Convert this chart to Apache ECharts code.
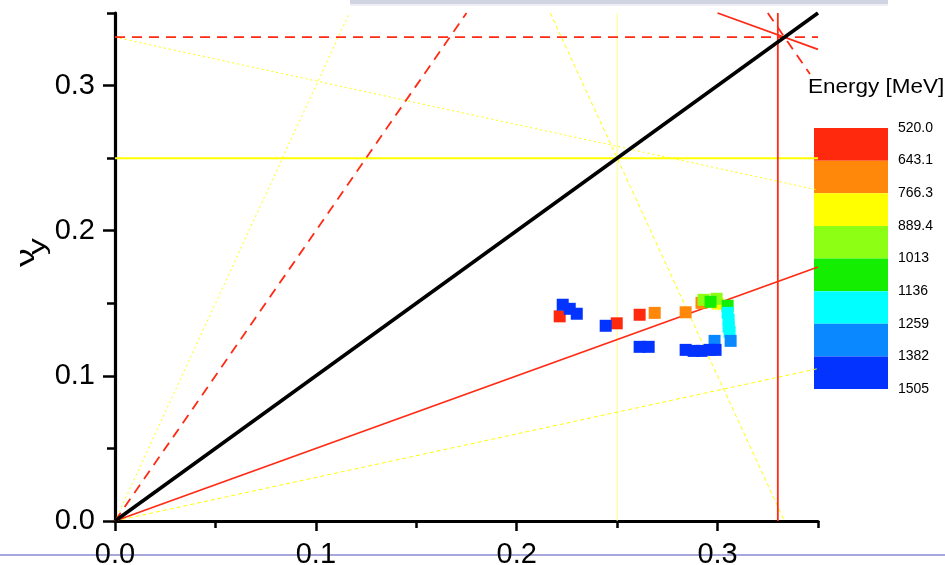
<!DOCTYPE html>
<html>
<head>
<meta charset="utf-8">
<script src="https://cdn.jsdelivr.net/npm/echarts@6/dist/echarts.min.js"></script>
<style>
  html, body { margin: 0; padding: 0; background: #ffffff; }
  #chart { width: 945px; height: 565px; }
</style>
</head>
<body>
<div id="chart"></div>
<script>
// Axis ticks of the tune diagram
const xTickValues = [0, 0.1, 0.2, 0.3];
const xTickLabels = ['0.0', '0.1', '0.2', '0.3'];
const yTickValues = [0, 0.1, 0.2, 0.3];
const yTickLabels = ['0.0', '0.1', '0.2', '0.3'];
const minorTickValues = [0.05, 0.15, 0.25, 0.35];

// Measured working points along the ramp: horizontal tune, vertical tune, beam energy [MeV]
const tuneX = [0.2214, 0.2498, 0.2612, 0.2687, 0.2841, 0.2920, 0.3000, 0.2930, 0.2995, 0.2965,
               0.3050, 0.3050, 0.3055, 0.3055, 0.3060, 0.3065, 0.2985, 0.2990, 0.2960, 0.2920,
               0.2881, 0.2841, 0.2657, 0.2612, 0.2443, 0.2299, 0.2264, 0.2229];
const tuneY = [0.1410, 0.1362, 0.1421, 0.1434, 0.1438, 0.1503, 0.1497, 0.1524, 0.1531, 0.1510,
               0.1483, 0.1434, 0.1386, 0.1338, 0.1303, 0.1241, 0.1241, 0.1179, 0.1179, 0.1172,
               0.1172, 0.1179, 0.1200, 0.1200, 0.1345, 0.1428, 0.1462, 0.1490];
const tuneEnergy = [530, 570, 610, 660, 700, 745, 830, 920, 980, 1040,
                    1100, 1150, 1180, 1210, 1240, 1290, 1350, 1390, 1400, 1410,
                    1420, 1430, 1440, 1450, 1465, 1480, 1490, 1500];

// Energy colour scale
const energyBounds = [520.0, 643.1, 766.3, 889.4, 1013, 1136, 1259, 1382, 1505];
const energyTickLabels = ['520.0', '643.1', '766.3', '889.4', '1013', '1136', '1259', '1382', '1505'];
const energyColors = ['#ff2a0e', '#ff870a', '#ffff00', '#8cff14', '#14ee00', '#00ffff', '#0a88ff', '#0233ff'];

// Resonance lines (end points in tune space)
const coupling = [[0, 0], [0.35, 0.35]];            // Qx = Qy
const halfLine = [[0, 0], [0.35, 0.175]];           // Qx - 2Qy = 0
const doubleLine = [[0, 0], [0.175, 0.35]];         // 2Qx - Qy = 0
const thirdY = [[0, 1 / 3], [0.35, 1 / 3]];         // 3Qy = 1
const thirdX = [[0.33, 0], [0.33, 0.35]];           // 3Qx = 1
const sumA = [[0.30, 0.35], [0.35, 0.325]];         // Qx + 2Qy = 1
const sumB = [[0.325, 0.35], [0.346, 0.308]];       // 2Qx + Qy = 1
const quarterY = [[0, 0.25], [0.35, 0.25]];         // 4Qy = 1
const quarterX = [[0.25, 0], [0.25, 0.35]];         // 4Qx = 1
const sumC = [[0.2167, 0.35], [0.3333, 0]];         // 3Qx + Qy = 1
const steepLine = [[0, 0], [0.1167, 0.35]];         // 3Qx - Qy = 0
const sumD = [[0, 0.3333], [0.35, 0.228]];          // Qx + 3Qy = 1
const flatLine = [[0, 0], [0.35, 0.105]];           // Qx - 3Qy = 0

const RED = '#ff2a14';
const YEL = '#ffff00';
const FONT = 'Liberation Sans, Arial, sans-serif';

function lineSeries(data, color, width, type, z) {
  return {
    type: 'line', xAxisIndex: 0, yAxisIndex: 0, data: data,
    symbol: 'none', silent: true, animation: false, z: z || 2,
    lineStyle: { color: color, width: width, type: type || 'solid', cap: 'butt' }
  };
}

const series = [
  lineSeries(quarterX, '#ffff80', 1),
  lineSeries(quarterY, YEL, 2),
  lineSeries(steepLine, YEL, 1, [2, 3]),
  lineSeries(sumD, YEL, 1, [2, 3]),
  lineSeries(flatLine, YEL, 1, [4, 3]),
  lineSeries(sumC, YEL, 1, [4, 3]),
  lineSeries(halfLine, RED, 1.8),
  lineSeries(doubleLine, RED, 1.8, [10, 7]),
  lineSeries(thirdY, RED, 1.8, [10, 7]),
  lineSeries(thirdX, RED, 1.8),
  lineSeries(sumA, RED, 1.8),
  lineSeries(sumB, RED, 1.8, [10, 7]),
  lineSeries(coupling, '#000000', 3.6, 'solid', 3)
];

const scatterIndex = series.length;
series.push({
  type: 'scatter', xAxisIndex: 0, yAxisIndex: 0, z: 5,
  symbol: 'rect', symbolSize: 12, animation: false,
  itemStyle: { opacity: 1 },
  data: tuneX.map((x, i) => [x, tuneY[i], tuneEnergy[i]])
});

// Colour bar blocks, one stacked block per energy band
energyColors.forEach((c, i) => {
  series.push({
    type: 'bar', xAxisIndex: 2, yAxisIndex: 2, stack: 'bar',
    data: [1], barWidth: '100%', silent: true, animation: false,
    itemStyle: { color: c, opacity: 1 }
  });
});

const majorX = {
  type: 'value', gridIndex: 0, min: 0, max: 0.35, position: 'bottom',
  axisLine: { show: true, onZero: false, lineStyle: { color: '#000', width: 3.2 } },
  axisTick: { show: true, customValues: xTickValues, length: 10, lineStyle: { color: '#000', width: 2.5 } },
  axisLabel: {
    customValues: xTickValues, margin: 19, fontSize: 29, color: '#000', fontFamily: FONT,
    formatter: v => xTickLabels[xTickValues.findIndex(t => Math.abs(t - v) < 1e-9)]
  },
  splitLine: { show: false }
};
const minorX = {
  type: 'value', gridIndex: 0, min: 0, max: 0.35, position: 'bottom',
  axisLine: { show: false, onZero: false },
  axisTick: { show: true, customValues: minorTickValues, length: 7, lineStyle: { color: '#000', width: 2.5 } },
  axisLabel: { show: false },
  splitLine: { show: false }
};
const majorY = {
  type: 'value', gridIndex: 0, min: 0, max: 0.35, position: 'left',
  axisLine: { show: true, onZero: false, lineStyle: { color: '#000', width: 3.2 } },
  axisTick: { show: true, customValues: yTickValues, length: 12, lineStyle: { color: '#000', width: 2.5 } },
  axisLabel: {
    customValues: yTickValues, margin: 20, fontSize: 29, color: '#000', fontFamily: FONT,
    formatter: v => yTickLabels[yTickValues.findIndex(t => Math.abs(t - v) < 1e-9)]
  },
  splitLine: { show: false }
};
const minorY = {
  type: 'value', gridIndex: 0, min: 0, max: 0.35, position: 'left',
  axisLine: { show: false, onZero: false },
  axisTick: { show: true, customValues: minorTickValues, length: 8, lineStyle: { color: '#000', width: 2.5 } },
  axisLabel: { show: false },
  splitLine: { show: false }
};

const option = {
  backgroundColor: '#ffffff',
  animation: false,
  grid: [
    { left: 115, top: 13, width: 703, height: 508, containLabel: false, outerBoundsMode: 'none' },
    { left: 814, top: 128, width: 74, height: 261, containLabel: false, outerBoundsMode: 'none' }
  ],
  xAxis: [
    majorX, minorX,
    { type: 'category', gridIndex: 1, data: [''], show: false }
  ],
  yAxis: [
    majorY, minorY,
    {
      type: 'value', gridIndex: 1, min: 0, max: 8, interval: 1, inverse: true, position: 'right',
      axisLine: { show: false }, axisTick: { show: false }, splitLine: { show: false },
      axisLabel: {
        show: true, margin: 10, fontSize: 14, color: '#000', fontFamily: FONT,
        formatter: v => energyTickLabels[Math.round(v)]
      }
    }
  ],
  visualMap: {
    type: 'piecewise', show: false, seriesIndex: scatterIndex, dimension: 2,
    pieces: energyColors.map((c, i) => ({
      gte: energyBounds[i],
      lt: i === energyColors.length - 1 ? energyBounds[i + 1] + 1 : energyBounds[i + 1],
      color: c
    }))
  },
  graphic: [
    { type: 'rect', shape: { x: 350, y: 0, width: 538, height: 4 }, style: { fill: '#d0d3e2' }, silent: true },
    { type: 'rect', shape: { x: 350, y: 4, width: 538, height: 2 }, style: { fill: '#eef0f6' }, silent: true },
    { type: 'line', shape: { x1: 0, y1: 555, x2: 945, y2: 555 }, style: { stroke: '#8a8ad0', lineWidth: 1.5 }, z: -5, silent: true },
    {
      type: 'text', x: 808, y: 87, silent: true, scaleX: 1.07,
      style: { text: 'Energy [MeV]', fontSize: 21, fontFamily: FONT, fill: '#000', align: 'left', verticalAlign: 'middle' }
    },
    {
      type: 'text', x: 27, y: 257.5, rotation: Math.PI / 2, scaleX: 1.5, silent: true,
      style: { text: 'ν', fontSize: 25, fontFamily: FONT, fill: '#000', align: 'center', verticalAlign: 'middle' }
    },
    {
      type: 'text', x: 38.5, y: 246.5, rotation: Math.PI / 2, scaleX: 1.4, silent: true,
      style: { text: 'y', fontSize: 24, fontFamily: FONT, fill: '#000', align: 'center', verticalAlign: 'middle' }
    }
  ],
  series: series
};

const chart = echarts.init(document.getElementById('chart'), null, { renderer: 'canvas' });
chart.setOption(option);
</script>
</body>
</html>
